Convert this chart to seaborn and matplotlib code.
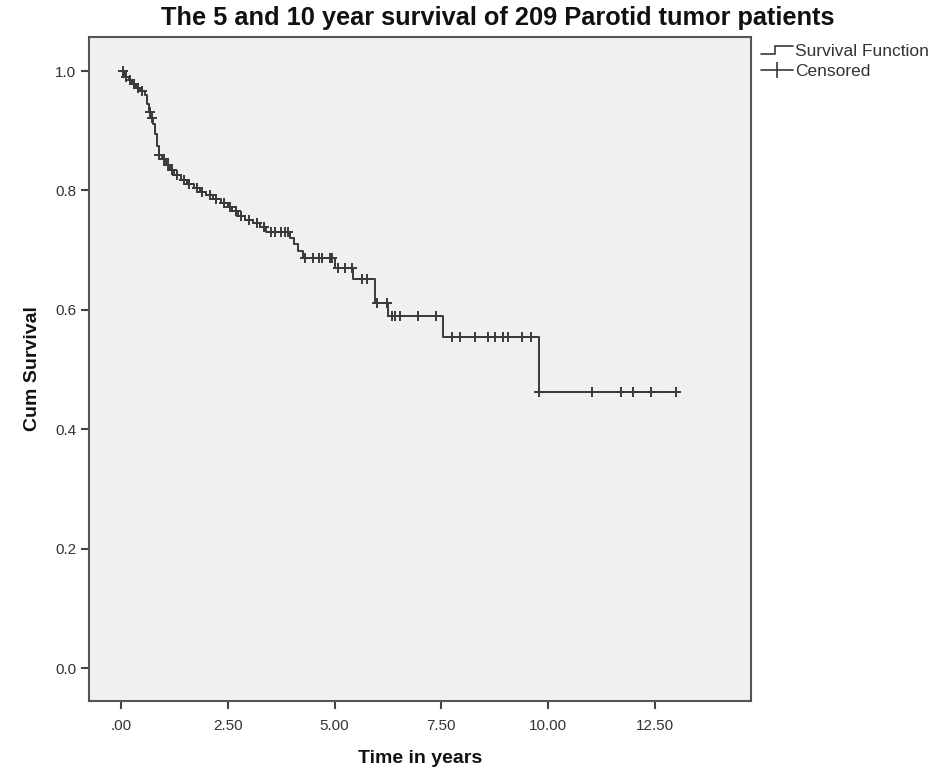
import numpy as np
import pandas as pd
import matplotlib
matplotlib.use("Agg")
import matplotlib.pyplot as plt
from matplotlib.lines import Line2D
from matplotlib.legend_handler import HandlerBase
import seaborn as sns

# ---- data ----
step_times = [0.0, 0.10, 0.18, 0.25, 0.35, 0.45, 0.55, 0.60, 0.65, 0.70, 0.75, 0.80,
              0.85, 0.88, 0.95, 1.05, 1.15, 1.25, 1.40, 1.55, 1.70, 1.85, 2.00, 2.15,
              2.35, 2.50, 2.60, 2.75, 2.90, 3.10, 3.25, 3.40, 3.95, 4.05, 4.15, 4.25,
              5.00, 5.43, 5.95, 6.25, 7.54, 9.79, 13.0]
step_surv = [1.000, 0.990, 0.985, 0.978, 0.972, 0.966, 0.960, 0.945, 0.932, 0.922, 0.912, 0.895,
             0.875, 0.860, 0.852, 0.843, 0.835, 0.826, 0.818, 0.810, 0.804, 0.798, 0.792, 0.786,
             0.779, 0.772, 0.765, 0.757, 0.750, 0.745, 0.738, 0.730, 0.720, 0.710, 0.698, 0.687,
             0.670, 0.652, 0.612, 0.590, 0.555, 0.463, 0.463]

censor_times = [0.05, 0.12, 0.22, 0.30, 0.40, 0.50, 0.67, 0.72, 0.90, 1.00, 1.10, 1.20,
                1.30, 1.48, 1.60, 1.78, 1.90, 2.08, 2.22, 2.40, 2.55, 2.70, 2.82, 3.00,
                3.18, 3.35, 3.50, 3.60, 3.75, 3.85, 3.90, 4.31, 4.50, 4.64, 4.71, 4.89,
                4.94, 5.08, 5.25, 5.41, 5.64, 5.76, 6.00, 6.22, 6.35, 6.42, 6.53, 6.96,
                7.38, 7.75, 7.94, 8.29, 8.59, 8.76, 8.95, 9.06, 9.39, 9.60, 9.79, 11.03,
                11.71, 11.99, 12.41, 13.0]

x_ticks = [0.0, 2.5, 5.0, 7.5, 10.0, 12.5]
x_tick_labels = [".00", "2.50", "5.00", "7.50", "10.00", "12.50"]
y_ticks = [0.0, 0.2, 0.4, 0.6, 0.8, 1.0]
y_tick_labels = ["0.0", "0.2", "0.4", "0.6", "0.8", "1.0"]

title = "The 5 and 10 year survival of 209 Parotid tumor patients"
xlabel = "Time in years"
ylabel = "Cum Survival"

# ---- build frames ----
curve = pd.DataFrame({"time": step_times, "surv": step_surv})
idx = np.searchsorted(np.array(step_times), np.array(censor_times), side="right") - 1
cens = pd.DataFrame({"time": censor_times, "surv": np.array(step_surv)[idx]})

sns.set_theme(style="white")
plt.rcParams["font.family"] = ["Liberation Sans", "DejaVu Sans"]

line_color = "#3a3a3a"
fig = plt.figure(figsize=(9.42, 7.8), dpi=100)
ax = fig.add_axes([89 / 942, 1 - 701 / 780, (751 - 89) / 942, (701 - 37) / 780])
ax.set_facecolor("#f0f0f0")

sns.lineplot(data=curve, x="time", y="surv", ax=ax, drawstyle="steps-post",
             color=line_color, linewidth=1.4, estimator=None, sort=False)
sns.scatterplot(data=cens, x="time", y="surv", ax=ax, marker="+", s=55,
                color=line_color, linewidth=1.4, zorder=3)

ax.set_xlim(-0.75, 14.75)
ax.set_ylim(-0.055, 1.057)
ax.set_xticks(x_ticks)
ax.set_xticklabels(x_tick_labels)
ax.set_yticks(y_ticks)
ax.set_yticklabels(y_tick_labels)
ax.tick_params(axis="both", direction="out", length=6, width=1.5, color="#444444",
               labelsize=11, labelcolor="#333333", pad=3)
ax.tick_params(axis="x", pad=7)
ax.xaxis.set_ticks_position("bottom")
ax.yaxis.set_ticks_position("left")

for side in ["left", "bottom", "right", "top"]:
    ax.spines[side].set_visible(True)
    ax.spines[side].set_color("#555555")
    ax.spines[side].set_linewidth(1.5)

ax.set_xlabel(xlabel, fontsize=14, fontweight="bold", labelpad=12, color="#111111")
ax.set_ylabel(ylabel, fontsize=14, fontweight="bold", labelpad=10, color="#111111")
fig.text(498 / 942, 1 - 18 / 780, title, ha="center", va="center", fontsize=18.3,
         fontweight="bold", color="#111111")


class StepHandler(HandlerBase):
    def create_artists(self, legend, orig_handle, xdescent, ydescent, width, height,
                       fontsize, trans):
        x0 = -xdescent
        x1 = x0 + width
        xm = x0 + width * 0.45
        ylo = -ydescent + height * 0.2
        yhi = -ydescent + height * 0.85
        ln = Line2D([x0, xm, xm, x1], [ylo, ylo, yhi, yhi], color=line_color,
                    linewidth=1.2, transform=trans)
        return [ln]


step_handle = Line2D([], [], color=line_color)
cens_handle = Line2D([], [], color=line_color, linewidth=1.2, marker="|",
                     markersize=11, markeredgewidth=1.2)
leg = ax.legend([step_handle, cens_handle], ["Survival Function", "Censored"],
                handler_map={step_handle: StepHandler()},
                loc="upper left", bbox_to_anchor=(1.005, 1.0), frameon=False,
                fontsize=12.5, handlelength=1.8, handletextpad=0.15,
                labelspacing=0.25, borderaxespad=0.0)
for t in leg.get_texts():
    t.set_color("#333333")

fig.savefig("out.png", dpi=100, facecolor="white")
